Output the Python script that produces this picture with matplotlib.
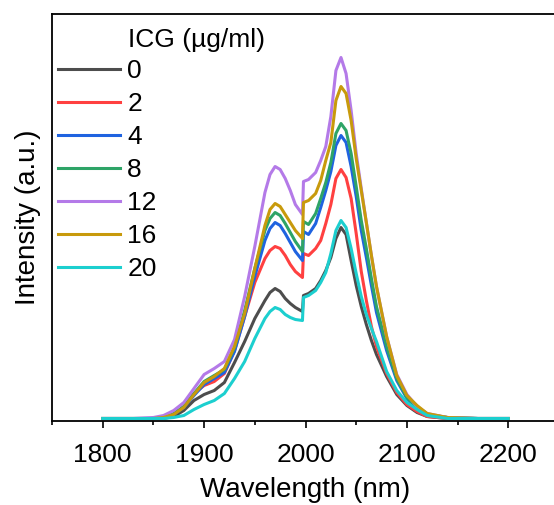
import matplotlib
matplotlib.use('Agg')
import matplotlib.pyplot as plt
from matplotlib.ticker import MultipleLocator

plt.rcParams['font.family'] = ['Liberation Sans', 'DejaVu Sans']

# wavelength grid (nm)
wavelength = [1800, 1830, 1850, 1860, 1870, 1880, 1890, 1900, 1910, 1920,
              1930, 1940, 1950, 1960, 1965, 1970, 1975, 1980, 1985, 1990,
              1997, 1998, 2003, 2010, 2015, 2020, 2025, 2030, 2035, 2040,
              2045, 2050, 2055, 2060, 2065, 2070, 2080, 2090, 2100, 2110,
              2120, 2140, 2170, 2200]

# intensity (a.u.) for each ICG concentration
icg_0 = [0, 0, 0, 0, 2, 8, 18, 24, 28, 36,
         56, 77, 100, 118, 126, 130, 127, 120, 115, 111,
         107, 123, 125, 130, 138, 148, 161, 180, 191, 184,
         158, 133, 112, 94, 78, 64, 42, 24, 13, 6,
         2, 0, 0, 0]
icg_2 = [0, 0, 0, 1, 4, 12, 25, 33, 37, 45,
         68, 102, 136, 160, 168, 172, 170, 163, 154, 147,
         141, 165, 163, 170, 178, 195, 214, 240, 249, 241,
         220, 185, 147, 118, 92, 72, 45, 26, 14, 7,
         2, 0, 0, 0]
icg_4 = [0, 0, 0, 1, 4, 11, 23, 34, 40, 46,
         67, 102, 142, 178, 190, 196, 193, 185, 176, 167,
         158, 187, 184, 195, 211, 228, 247, 273, 283, 276,
         252, 222, 188, 161, 133, 106, 68, 38, 20, 10,
         4, 1, 0, 0]
icg_8 = [0, 0, 0, 1, 5, 12, 25, 37, 43, 49,
         71, 108, 150, 188, 200, 206, 203, 195, 186, 177,
         167, 197, 194, 205, 220, 236, 256, 285, 295, 288,
         265, 232, 198, 170, 140, 112, 72, 40, 21, 11,
         4, 1, 0, 0]
icg_12 = [0, 0, 1, 3, 8, 16, 30, 44, 50, 57,
          79, 122, 172, 226, 244, 252, 249, 240, 228, 214,
          204, 237, 239, 246, 258, 272, 302, 348, 361, 345,
          308, 265, 230, 196, 163, 132, 82, 44, 24, 12,
          5, 1, 0, 0]
icg_16 = [0, 0, 0, 1, 4, 11, 24, 36, 42, 50,
          72, 105, 150, 193, 209, 215, 212, 204, 196, 188,
          180, 216, 218, 225, 238, 258, 276, 318, 332, 325,
          298, 260, 228, 196, 163, 132, 82, 43, 23, 13,
          5, 1, 0, 0]
icg_20 = [0, 0, 0, 0, 1, 3, 9, 14, 18, 25,
          40, 57, 80, 100, 107, 111, 109, 104, 101, 99,
          98, 121, 123, 128, 136, 146, 165, 188, 198, 191,
          170, 145, 122, 104, 90, 77, 47, 28, 16, 9,
          3, 0, 0, 0]

labels = ['0', '2', '4', '8', '12', '16', '20']
series = [icg_0, icg_2, icg_4, icg_8, icg_12, icg_16, icg_20]
colors = ['#4d4d4d', '#ff4040', '#1f63e0', '#2ea467', '#b47ae8', '#c89a0c', '#1ccfcf']

fig = plt.figure(figsize=(5.54, 5.05), dpi=100)
ax = fig.add_axes([52 / 554, 84 / 505, 507 / 554, 407 / 505])

for y, lab, c in zip(series, labels, colors):
    ax.plot(wavelength, y, color=c, lw=2.2, label=lab)

ax.set_xlim(1750, 2250)
ax.set_ylim(-2.5, 404.5)
ax.xaxis.set_major_locator(MultipleLocator(100))
ax.xaxis.set_minor_locator(MultipleLocator(50))
ax.tick_params(axis='x', which='major', direction='out', length=5, width=1.2,
               labelsize=19, pad=11)
ax.tick_params(axis='x', which='minor', direction='out', length=3, width=1.2)
ax.tick_params(axis='y', left=False, labelleft=False)
for side in ['left', 'bottom', 'top', 'right']:
    ax.spines[side].set_linewidth(1.3)

ax.set_xlabel('Wavelength (nm)', fontsize=20, labelpad=7)
ax.set_ylabel('Intensity (a.u.)', fontsize=20, labelpad=8)

leg = ax.legend(loc='upper left', bbox_to_anchor=(0.012, 0.889), frameon=False,
                fontsize=19, handlelength=2.35, handletextpad=0.27,
                labelspacing=0.34, borderaxespad=0.0, borderpad=0.0)
ax.text(0.150, 0.936, 'ICG (\u00b5g/ml)', transform=ax.transAxes, fontsize=19,
        ha='left', va='center')

fig.savefig('out.png', dpi=100)
